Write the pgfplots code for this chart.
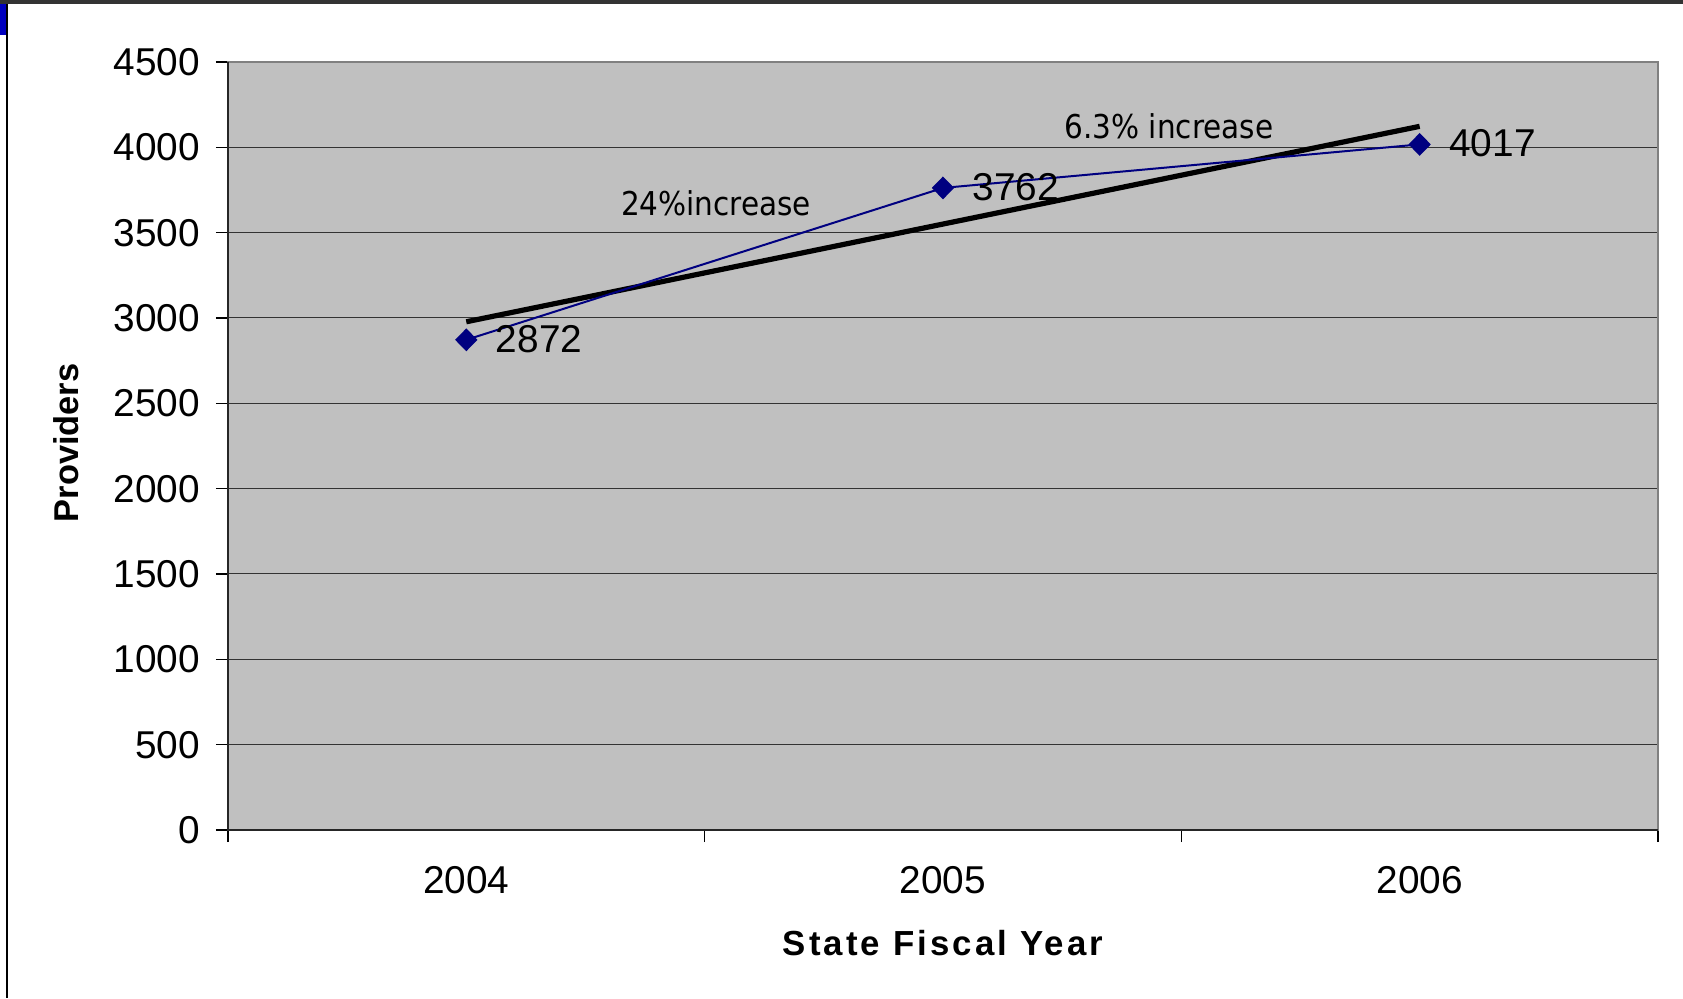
\documentclass[border=0pt]{standalone}
\usepackage{pgfplots}
\pgfplotsset{compat=1.18}
\usepackage{fontspec}
\setmainfont{Liberation Sans}
\newfontfamily\annfont{DejaVu Sans Condensed}
\definecolor{plotbg}{HTML}{C0C0C0}
\definecolor{navy}{HTML}{000080}
\definecolor{bordergray}{HTML}{808080}

\pgfplotstableread{
x y
0 2872
1 3762
2 4017
}\providers

\pgfplotstableread{
x y
0 2977.8
2 4122.8
}\trend

\begin{document}
\begin{tikzpicture}
\begin{axis}[
  scale only axis, width=715pt, height=384pt,
  xmin=-0.5, xmax=2.5, ymin=0, ymax=4500,
  axis background/.style={fill=plotbg},
  axis line style={draw=bordergray, line width=0.8pt},
  xtick={0,1,2}, xticklabels={2004,2005,2006},
  major x tick style={draw=none},
  minor xtick={-0.5,0.5,1.5,2.5},
  ytick={0,500,...,4500},
  ymajorgrids, grid style={black!80, line width=0.5pt},
  tick align=outside, tick pos=left,
  major tick length=6pt, minor tick length=6pt,
  every tick/.style={black, line width=0.6pt},
  minor x tick style={black, line width=0.6pt},
  /pgf/number format/assume math mode=true,
  /pgf/number format/set thousands separator={},
  ticklabel style={font=\fontsize{19.4}{23}\selectfont},
  xticklabel style={yshift=-8.5pt},
  yticklabel style={xshift=-4.5pt},
  xlabel={State Fiscal Year},
  ylabel={Providers},
  xlabel style={font=\bfseries\fontsize{17.4}{20}\selectfont\addfontfeatures{LetterSpace=9},
    at={(rel axis cs:0.5,-0.1471)}, anchor=center},
  ylabel style={font=\bfseries\fontsize{17.2}{20}\selectfont,
    at={(rel axis cs:-0.1129,0.504)}, anchor=center, rotate=0},
  clip=false,
]
% left & bottom axis lines darker
\draw[black!85, line width=0.8pt] (rel axis cs:0,1) -- (rel axis cs:0,0) -- (rel axis cs:1,0);
% trend line
\addplot[black, line width=2.6pt, no marks] table[x=x,y=y] {\trend};
% data
\addplot[navy, line width=1pt, mark=diamond*, mark size=5pt,
  mark options={xscale=1.3, fill=navy, draw=navy},
  nodes near coords,
  every node near coord/.append style={anchor=west, xshift=11pt, yshift=0.5pt,
    text=black, font=\fontsize{19.4}{23}\selectfont}]
  table[x=x,y=y] {\providers};
\node[font=\annfont\fontsize{16.4}{19}\selectfont, black] at (axis cs:0.524,3674) {24\%increase};
\node[font=\annfont\fontsize{16.4}{19}\selectfont, black] at (axis cs:1.474,4125) {6.3\% increase};
% frame artifacts of the screenshot
\path (rel axis cs:-0.1594,-0.21875) rectangle (rel axis cs:1.01748,1.0807);
\fill[black!80] (rel axis cs:-0.1594,1.0807) rectangle (rel axis cs:1.01748,1.0755);
\draw[black, line width=0.8pt] (rel axis cs:-0.1545,1.0755) -- (rel axis cs:-0.1545,-0.21875);
\fill[blue!75!black] (rel axis cs:-0.1594,1.0755) rectangle (rel axis cs:-0.1552,1.035);
\end{axis}
\end{tikzpicture}
\end{document}
